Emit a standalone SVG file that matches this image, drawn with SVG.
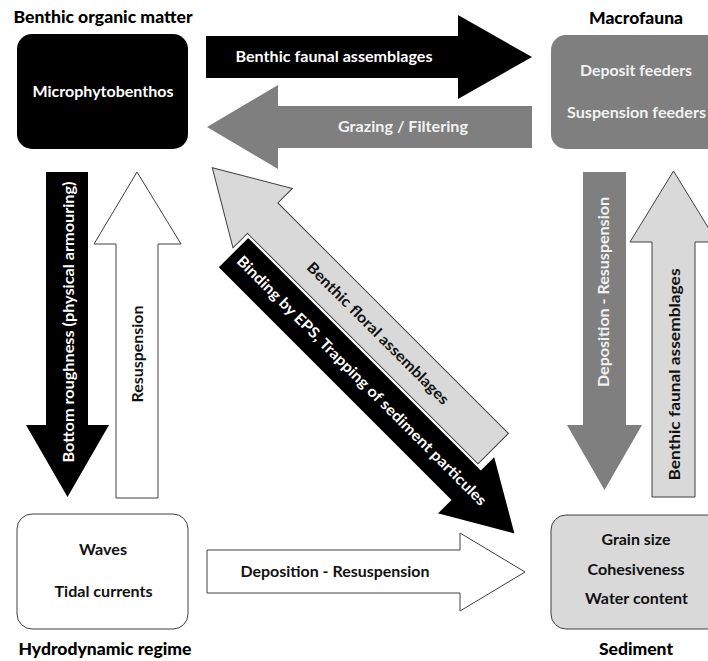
<svg xmlns="http://www.w3.org/2000/svg" width="708" height="661" viewBox="0 0 708 661">
<style>
text{font-family:Lato,"Liberation Sans",Arial,sans-serif;font-weight:700;}
.t{font-size:17px;font-weight:900;fill:#000;text-anchor:middle;}
.n{font-size:15.5px;text-anchor:middle;}
.a{font-size:15px;text-anchor:middle;}
.w{fill:#fff;}
.lw{fill:#f2f2f2;}
.k{fill:#111;}
.ol{stroke:#404040;stroke-width:1;}
</style>
<rect width="708" height="661" fill="#fff"/>
<g id="connectors">
  <g id="c-faunal-top">
    <path d="M206,36 H458 V15 L532,57 L458,99 V78 H206 Z" fill="#000"/>
    <text class="a w" x="334" y="62" textLength="197" lengthAdjust="spacingAndGlyphs">Benthic faunal assemblages</text>
  </g>
  <g id="c-grazing">
    <path d="M532,106 H278 V85 L207,127 L278,169 V148 H532 Z" fill="#7f7f7f"/>
    <text class="a lw" x="403" y="132" textLength="130" lengthAdjust="spacingAndGlyphs">Grazing / Filtering</text>
  </g>
  <g id="c-roughness">
    <path d="M46,172 H88 V425 H109 L67.5,497 L26,425 H46 Z" fill="#000"/>
    <text class="a w" transform="translate(73.5,322) rotate(-90)" x="0" y="0" textLength="281" lengthAdjust="spacingAndGlyphs">Bottom roughness (physical armouring)</text>
  </g>
  <g id="c-resusp-left">
    <path d="M116,498 V244 H94 L137,172 L181,244 H158 V498 Z" fill="#fff" class="ol"/>
    <text class="a k" transform="translate(143,354) rotate(-90)" x="0" y="0" textLength="97" lengthAdjust="spacingAndGlyphs">Resuspension</text>
  </g>
  <g id="c-depo-right">
    <path d="M583,172 H626 V425 H642 L604.5,490 L567,425 H583 Z" fill="#7f7f7f"/>
    <text class="a lw" transform="translate(609,292) rotate(-90)" x="0" y="0" textLength="190" lengthAdjust="spacingAndGlyphs">Deposition - Resuspension</text>
  </g>
  <g id="c-faunal-right">
    <path d="M652,497 V242 H630 L673.5,171 L717,242 H695 V497 Z" fill="#d9d9d9" class="ol"/>
    <text class="a k" transform="translate(680,374.5) rotate(-90)" x="0" y="0" textLength="212" lengthAdjust="spacingAndGlyphs">Benthic faunal assemblages</text>
  </g>
  <g id="c-depo-bottom">
    <path d="M207,550 H460 V533 L525,572 L460,611 V593 H207 Z" fill="#fff" class="ol"/>
    <text class="a k" x="335" y="577" textLength="189" lengthAdjust="spacingAndGlyphs">Deposition - Resuspension</text>
  </g>
  <g transform="rotate(45)">
    <g id="c-floral">
      <path d="M666,-53 H340 V-73.5 L268.7,-31.5 L340,10.5 V-10 H666 Z" fill="#d9d9d9" class="ol"/>
      <text class="a k" x="503" y="-26.5" textLength="194" lengthAdjust="spacingAndGlyphs">Benthic floral assemblages</text>
    </g>
    <g id="c-binding">
      <path d="M343,-8 H672 V-27.5 L742.5,13.5 L672,54.5 V35 H343 Z" fill="#000" stroke="#fff" stroke-width="1.5"/>
      <text class="a w" x="525" y="18.5" textLength="346" lengthAdjust="spacingAndGlyphs">Binding by EPS, Trapping of sediment particules</text>
    </g>
  </g>
</g>
<g id="node-organic">
  <text class="t" x="103" y="23" textLength="179" lengthAdjust="spacingAndGlyphs">Benthic organic matter</text>
  <rect x="17" y="34" width="171" height="115" rx="15" fill="#000"/>
  <text class="n w" x="103" y="97" textLength="141" lengthAdjust="spacingAndGlyphs">Microphytobenthos</text>
</g>
<g id="node-macrofauna">
  <text class="t" x="636" y="24" textLength="94" lengthAdjust="spacingAndGlyphs">Macrofauna</text>
  <rect x="551" y="35" width="171" height="114" rx="15" fill="#7f7f7f"/>
  <text class="n lw" x="636" y="76" textLength="112" lengthAdjust="spacingAndGlyphs">Deposit feeders</text>
  <text class="n lw" x="636.5" y="118" textLength="139" lengthAdjust="spacingAndGlyphs">Suspension feeders</text>
</g>
<g id="node-hydro">
  <rect x="17" y="514" width="171" height="115" rx="15" fill="#fff" class="ol"/>
  <text class="n k" x="103" y="555" textLength="48" lengthAdjust="spacingAndGlyphs">Waves</text>
  <text class="n k" x="103.5" y="596.5" textLength="98" lengthAdjust="spacingAndGlyphs">Tidal currents</text>
  <text class="t" x="105" y="655" textLength="173" lengthAdjust="spacingAndGlyphs">Hydrodynamic regime</text>
</g>
<g id="node-sediment">
  <rect x="551" y="515" width="171" height="114" rx="15" fill="#d9d9d9" class="ol"/>
  <text class="n k" x="636" y="545" textLength="69" lengthAdjust="spacingAndGlyphs">Grain size</text>
  <text class="n k" x="636" y="575" textLength="97" lengthAdjust="spacingAndGlyphs">Cohesiveness</text>
  <text class="n k" x="636.5" y="604" textLength="103" lengthAdjust="spacingAndGlyphs">Water content</text>
  <text class="t" x="636" y="655" textLength="74" lengthAdjust="spacingAndGlyphs">Sediment</text>
</g>
</svg>
